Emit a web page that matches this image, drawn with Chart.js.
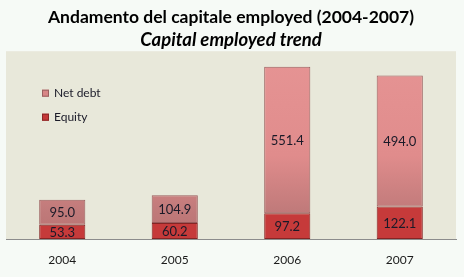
<!DOCTYPE html>
<html>
<head>
<meta charset="utf-8">
<script src="https://cdn.jsdelivr.net/npm/chart.js@4/dist/chart.umd.min.js"></script>
<style>
  html, body { margin: 0; padding: 0; background: #f6faf6; }
  #wrap { width: 464px; height: 277px; }
</style>
</head>
<body>
<div id="wrap"><canvas id="chart" width="464" height="277"></canvas></div>
<script>
// dati del grafico
const years = ["2004", "2005", "2006", "2007"];
const equity = [53.3, 60.2, 97.2, 122.1];
const netDebt = [95.0, 104.9, 551.4, 494.0];
const seriesNames = ["Equity", "Net debt"];

// sfondo dell'area del grafico
const plotBg = {
  id: "plotBg",
  beforeDraw(chart) {
    const { ctx, chartArea: a } = chart;
    ctx.save();
    ctx.fillStyle = "#e8e8da";
    ctx.fillRect(a.left, a.top - 2, a.right - a.left, a.bottom - a.top + 2);
    ctx.restore();
  },
};

// etichette dei valori al centro di ogni segmento
const valueLabels = {
  id: "valueLabels",
  afterDatasetsDraw(chart) {
    const { ctx } = chart;
    ctx.save();
    ctx.font = "13px Lato, 'Open Sans', sans-serif";
    ctx.fillStyle = "#1a1a28";
    ctx.textAlign = "center";
    ctx.textBaseline = "middle";
    chart.data.datasets.forEach((ds, i) => {
      chart.getDatasetMeta(i).data.forEach((bar, j) => {
        const mid = (bar.y + bar.base) / 2;
        ctx.fillText(ds.data[j].toFixed(1), bar.x, mid + 1);
      });
    });
    ctx.restore();
  },
};

// legenda dentro l'area del grafico
const innerLegend = {
  id: "innerLegend",
  afterDraw(chart) {
    const { ctx, chartArea: a } = chart;
    const items = [
      { text: seriesNames[1], color: "#d88686", border: "#9a6060" },
      { text: seriesNames[0], color: "#c43838", border: "#8a2626" },
    ];
    ctx.save();
    ctx.font = "12px Lato, 'Open Sans', sans-serif";
    ctx.textBaseline = "middle";
    items.forEach((it, i) => {
      const y = a.top + 40 + i * 24;
      const x = a.left + 36;
      ctx.fillStyle = it.color;
      ctx.fillRect(x, y - 3.5, 7, 7);
      ctx.strokeStyle = it.border;
      ctx.lineWidth = 1;
      ctx.strokeRect(x + 0.5, y - 3, 6, 6);
      ctx.fillStyle = "#1a1a28";
      ctx.fillText(it.text, x + 12, y);
    });
    ctx.restore();
  },
};

function debtGradient(context) {
  const area = context.chart.chartArea;
  if (!area) return "#e08c8c";
  const g = context.chart.ctx.createLinearGradient(0, area.top, 0, area.bottom);
  g.addColorStop(0, "#e69494");
  g.addColorStop(0.55, "#e08c8c");
  g.addColorStop(0.85, "#c07a7a");
  g.addColorStop(1, "#b87272");
  return g;
}

const ctx = document.getElementById("chart").getContext("2d");
new Chart(ctx, {
  type: "bar",
  data: {
    labels: years,
    datasets: [
      {
        label: seriesNames[0],
        data: equity,
        backgroundColor: "#c63a3a",
        borderColor: "#862424",
        borderWidth: 1,
        borderSkipped: false,
        barPercentage: 0.41,
        categoryPercentage: 1,
      },
      {
        label: seriesNames[1],
        data: netDebt,
        backgroundColor: debtGradient,
        borderColor: "#9a5c5c",
        borderWidth: 1,
        borderSkipped: false,
        barPercentage: 0.41,
        categoryPercentage: 1,
      },
    ],
  },
  options: {
    responsive: false,
    animation: false,
    layout: { padding: { left: 6, right: 8, top: 0, bottom: 0 } },
    plugins: {
      legend: { display: false },
      tooltip: { enabled: false },
      title: {
        display: true,
        text: "Andamento del capitale employed (2004-2007)",
        color: "#000",
        font: { family: "Lato, 'Open Sans', sans-serif", size: 17.5, weight: "bold" },
        padding: { top: 7, bottom: 0 },
      },
      subtitle: {
        display: true,
        text: "Capital employed trend",
        color: "#000",
        font: { family: "Lato, 'Open Sans', sans-serif", size: 18.5, weight: "bold", style: "italic" },
        padding: { top: 1, bottom: 2 },
      },
    },
    scales: {
      x: {
        stacked: true,
        grid: { display: false, drawTicks: false },
        border: { color: "#8c8c8c", width: 1 },
        ticks: {
          color: "#1a1a1a",
          font: { family: "Lato, 'Open Sans', sans-serif", size: 12 },
          padding: 14,
        },
        afterFit(scale) { scale.height = 38; },
      },
      y: {
        stacked: true,
        display: false,
        min: 0,
        max: 700,
      },
    },
  },
  plugins: [plotBg, valueLabels, innerLegend],
});
</script>
</body>
</html>
